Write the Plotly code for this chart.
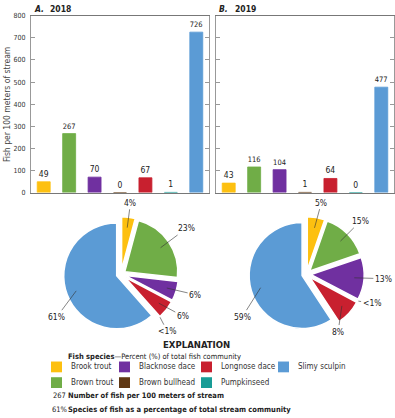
import math
import plotly.graph_objects as go

# ---------------- data ----------------
species = ["Brook trout", "Brown trout", "Blacknose dace", "Brown bullhead",
           "Longnose dace", "Pumpkinseed", "Slimy sculpin"]
colors = ["#FDC010", "#70AD47", "#7030A0", "#603813", "#C8202F", "#189C96", "#5B9BD5"]
fish_2018 = [49, 267, 70, 0, 67, 1, 726]
fish_2019 = [43, 116, 104, 1, 64, 0, 477]
pct_2018 = ["4%", "23%", "6%", "", "6%", "<1%", "61%"]
pct_2019 = ["5%", "15%", "13%", "<1%", "8%", "", "59%"]
y_ticks = [0, 100, 200, 300, 400, 500, 600, 700, 800]
years = ["2018", "2019"]
panel_letters = ["A.", "B."]

# ---------------- style / layout ----------------
W, H = 395, 418
FONT = "DejaVu Sans Condensed, Liberation Sans Narrow, Arial Narrow, Liberation Sans, sans-serif"
TXT = "#222222"

def px(x):
    return x / W

def py(y):
    return 1 - y / H

def note(x, y, text, size, xanchor="center", color=TXT, **kw):
    fig.add_annotation(x=px(x), y=py(y), xref="paper", yref="paper", text=text,
                       showarrow=False, xanchor=xanchor, yanchor="middle",
                       font=dict(size=size, color=color, family=FONT), **kw)

bar_x_px = [(31, 209), (216, 394)]
bar_y_px = (12, 192.3)
pie_center_px = [(121, 275.5), (306.5, 275.5)]
pie_R = 54
pull = 0.087
# label placement (angle nudge in degrees, distance in px) per slice
label_nudge = [[0, -1, -1.5, 0, -3.5, 3, -13], [2, 0, -1, -3.5, 19, 0, -17]]
label_dist = [[73, 80, 77, 0, 75, 74, 77], [74, 76, 77, 72, 66, 0, 77]]

fig = go.Figure()

series = [fish_2018, fish_2019]
pcts = [pct_2018, pct_2019]

for k in range(2):
    ax_id = "" if k == 0 else str(k + 1)
    fig.add_trace(go.Bar(
        x=species, y=series[k], marker=dict(color=colors, line=dict(color=colors, width=0.8)),
        width=0.51, text=[str(v) for v in series[k]], textposition="outside",
        textfont=dict(size=8.5, color=TXT, family=FONT), cliponaxis=False,
        xaxis="x" + ax_id, yaxis="y" + ax_id, showlegend=False, hoverinfo="x+y"))

    cx, cy = pie_center_px[k]
    half = pie_R * (1 + pull)
    fig.add_trace(go.Pie(
        values=series[k], labels=species, sort=False, direction="clockwise", rotation=0,
        pull=pull, textinfo="none", marker=dict(colors=colors, line=dict(color="white", width=1.5)),
        domain=dict(x=[px(cx - half), px(cx + half)], y=[py(cy + half), py(cy - half)]),
        showlegend=False))

    fig.update_layout(**{
        "xaxis" + ax_id: dict(domain=[px(bar_x_px[k][0]), px(bar_x_px[k][1])], range=[-0.5, 6.5],
                              showticklabels=False, ticks="", showline=True, linecolor="#777777",
                              linewidth=1, mirror=True, showgrid=False, zeroline=False,
                              anchor="y" + ax_id, fixedrange=True),
        "yaxis" + ax_id: dict(domain=[py(bar_y_px[1]), py(bar_y_px[0])], range=[0, 800],
                              tickvals=y_ticks, ticks="inside", ticklen=4, tickcolor="#999999",
                              showline=True, linecolor="#999999", linewidth=1, mirror="ticks",
                              showgrid=False, zeroline=False, showticklabels=(k == 0),
                              tickfont=dict(size=7, color="#333333", family=FONT),
                              ticklabelstandoff=3, anchor="x" + ax_id, fixedrange=True),
    })

    note(bar_x_px[k][0] + 1, 5, "<b><i>" + panel_letters[k] + "</i></b>", 8.5, "left")
    note(bar_x_px[k][0] + 17, 5, "<b>" + years[k] + "</b>", 8.5, "left")

    total = sum(series[k])
    cum = 0
    for i, v in enumerate(series[k]):
        start = cum
        cum += v
        if v == 0 or not pcts[k][i]:
            continue
        mid = (start + cum) / 2 / total * 360
        th = math.radians(mid)
        offx, offy = pull * pie_R * math.sin(th), -pull * pie_R * math.cos(th)
        ra = pie_R * (1.0 if pcts[k][i].startswith("<") else 0.8)
        axp = cx + offx + ra * math.sin(th)
        ayp = cy + offy - ra * math.cos(th)
        tl = math.radians(mid + label_nudge[k][i])
        d = label_dist[k][i]
        tx = cx + d * math.sin(tl)
        ty = cy - d * math.cos(tl)
        fig.add_annotation(x=px(axp), y=py(ayp), xref="paper", yref="paper",
                           text=pcts[k][i], showarrow=True, arrowhead=0, arrowwidth=0.6,
                           arrowcolor="#333333", ax=tx - axp, ay=ty - ayp, standoff=0,
                           xanchor="center", yanchor="middle",
                           font=dict(size=8.5, color=TXT, family=FONT))

note(7, 103, "Fish per 100 meters of stream", 8.5, "center", "#444444", textangle=-90)

# ---------------- explanation ----------------
note(196, 347, "<b>EXPLANATION</b>", 9.5)
note(66, 359, "<b>Fish species</b>\u2014Percent (%) of total fish community", 7.5, "left")

col_x = [51, 119, 201, 278]
row_y = [370, 386]
for i, name in enumerate(species):
    c, r = i // 2, i % 2
    x0, yc = col_x[c], row_y[r]
    fig.add_shape(type="rect", xref="paper", yref="paper",
                  x0=px(x0), x1=px(x0 + 11), y0=py(yc + 5.5), y1=py(yc - 5.5),
                  fillcolor=colors[i], line=dict(width=0))
    note(x0 + 18, yc, name, 8, "left", "#333333")

note(51, 399, "267", 7.5, "left")
note(66, 399, "<b>Number of fish per 100 meters of stream</b>", 7.5, "left")
note(50, 413, "61%", 7.5, "left")
note(66, 413, "<b>Species of fish as a percentage of total stream community</b>", 7.5, "left")

fig.update_layout(width=W, height=H, margin=dict(l=0, r=0, t=0, b=0),
                  paper_bgcolor="white", plot_bgcolor="white", bargap=0.2,
                  font=dict(family=FONT, color=TXT))

fig.write_html("out.html", config={"displayModeBar": False},
               post_script="document.body.style.margin='0';document.body.style.overflow='hidden';")
